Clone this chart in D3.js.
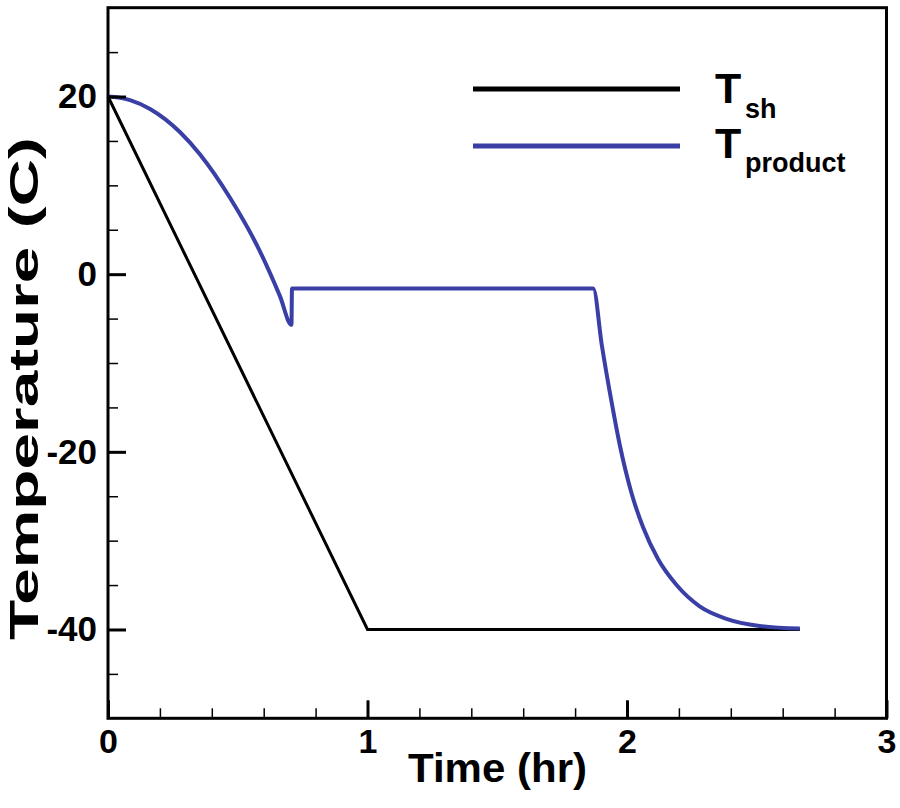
<!DOCTYPE html>
<html>
<head>
<meta charset="utf-8">
<script src="https://cdn.jsdelivr.net/npm/d3@7"></script>
<style>
  html, body { margin: 0; padding: 0; background: #fff; }
  svg { display: block; }
  text { font-family: "Liberation Sans", Arial, sans-serif; font-weight: bold; fill: #000; }
</style>
</head>
<body>
<svg id="chart" width="900" height="808"></svg>
<script>
// ---- Data ----
const shTime = [0, 1, 2.666];
const shTemp = [20, -40, -40];

const prodTime = [0, 0.04, 0.085, 0.162, 0.277, 0.354, 0.47, 0.585, 0.663, 0.707, 0.709, 1.870, 1.903, 1.940, 1.972, 2.017, 2.062, 2.120, 2.191, 2.280, 2.383, 2.511, 2.666];
const prodTemp = [20, 19.9, 19.6, 18.6, 16.0, 13.5, 8.6, 2.6, -2.5, -5.7, -1.6, -1.6, -8.0, -14.3, -19.2, -24.6, -28.5, -32.1, -35.0, -37.4, -38.8, -39.6, -39.9];

const xMajor = [0, 1, 2, 3];
const xMinor = [0.2, 0.4, 0.6, 0.8, 1.2, 1.4, 1.6, 1.8, 2.2, 2.4, 2.6, 2.8];
const yMajor = [-40, -20, 0, 20];
const yMinor = [-45, -35, -30, -25, -15, -10, -5, 5, 10, 15, 25];

const seriesNames = ["sh", "product"];
const seriesColors = ["#000000", "#3a3fa6"];

// ---- Scales ----
const svg = d3.select("#chart");
const x = d3.scaleLinear().domain([0, 3]).range([108, 886.5]);
const y = d3.scaleLinear().domain([-50, 30]).range([718.3, 7.7]);
const fmt = d => String(d); // hyphen minus like the reference

// ---- Lines ----
const shData = shTime.map((t, i) => [t, shTemp[i]]);
const prodData = prodTime.map((t, i) => [t, prodTemp[i]]);

const lineSh = d3.line().x(d => x(d[0])).y(d => y(d[1]));
const lineProd = d3.line().x(d => x(d[0])).y(d => y(d[1])).curve(d3.curveMonotoneX);

svg.append("path").datum(shData).attr("d", lineSh)
  .attr("fill", "none").attr("stroke", seriesColors[0]).attr("stroke-width", 3);
svg.append("path").datum(prodData).attr("d", lineProd)
  .attr("fill", "none").attr("stroke", seriesColors[1]).attr("stroke-width", 4)
  .attr("stroke-linejoin", "miter");

// ---- Frame ----
const [x0, x1] = x.range();
const [yb, yt] = y.range();
svg.append("rect").attr("x", x0).attr("y", yt).attr("width", x1 - x0).attr("height", yb - yt)
  .attr("fill", "none").attr("stroke", "#000").attr("stroke-width", 3);

// ---- Axes (inward ticks) ----
const gx = svg.append("g").attr("transform", `translate(0,${yb})`)
  .call(d3.axisBottom(x).tickValues(xMajor).tickSize(-18).tickFormat(fmt).tickPadding(0));
gx.select(".domain").remove();
gx.selectAll(".tick line").attr("stroke-width", 3);
gx.selectAll(".tick text").attr("y", 0).attr("dy", 35).style("font-size", "34px")
  .style("font-family", "'Liberation Sans', Arial, sans-serif").style("font-weight", "bold");

const gxm = svg.append("g").attr("transform", `translate(0,${yb})`)
  .call(d3.axisBottom(x).tickValues(xMinor).tickSize(-10).tickFormat(""));
gxm.select(".domain").remove();
gxm.selectAll(".tick line").attr("stroke-width", 1.5);

const gy = svg.append("g").attr("transform", `translate(${x0},0)`)
  .call(d3.axisLeft(y).tickValues(yMajor).tickSize(-18).tickFormat(fmt).tickPadding(11));
gy.select(".domain").remove();
gy.selectAll(".tick line").attr("stroke-width", 3);
gy.selectAll(".tick text").attr("x", -11).style("font-size", "35px")
  .style("font-family", "'Liberation Sans', Arial, sans-serif").style("font-weight", "bold");

const gym = svg.append("g").attr("transform", `translate(${x0},0)`)
  .call(d3.axisLeft(y).tickValues(yMinor).tickSize(-10).tickFormat(""));
gym.select(".domain").remove();
gym.selectAll(".tick line").attr("stroke-width", 1.5);

// ---- Axis titles ----
svg.append("text").attr("x", 497.5).attr("y", 782).attr("text-anchor", "middle")
  .attr("textLength", 179).attr("lengthAdjust", "spacingAndGlyphs")
  .style("font-size", "41px").text("Time (hr)");

svg.append("text").attr("transform", "translate(38,388.5) rotate(-90)").attr("text-anchor", "middle")
  .attr("textLength", 503).attr("lengthAdjust", "spacingAndGlyphs")
  .style("font-size", "40px").text("Temperature (C)");

// ---- Legend ----
const legendY = [89, 146];
const legendBase = [103, 158];
const subBase = [118, 172];
seriesNames.forEach((name, i) => {
  svg.append("line").attr("x1", 473).attr("x2", 680).attr("y1", legendY[i]).attr("y2", legendY[i])
    .attr("stroke", seriesColors[i]).attr("stroke-width", 5);
  svg.append("text").attr("x", 715).attr("y", legendBase[i]).style("font-size", "43px").text("T");
  svg.append("text").attr("x", 745).attr("y", subBase[i]).style("font-size", "27px").text(name);
});
</script>
</body>
</html>
